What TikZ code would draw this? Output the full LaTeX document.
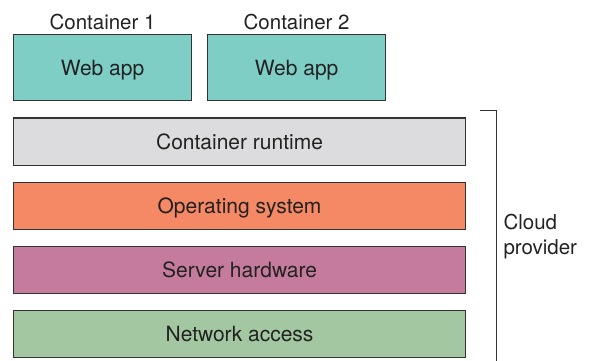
\documentclass[tikz,border=0pt]{standalone}
\usepackage{fontspec}
\setmainfont{TeX Gyre Heros}
\usetikzlibrary{positioning}

\definecolor{appteal}{HTML}{7FCEC6}
\definecolor{rtgray}{HTML}{DCDCDE}
\definecolor{osorange}{HTML}{F58865}
\definecolor{hwpink}{HTML}{C57B9C}
\definecolor{netgreen}{HTML}{A3C8A1}
\definecolor{edge}{HTML}{333333}
\definecolor{ink}{HTML}{222222}

\begin{document}
\begin{tikzpicture}[x=1pt,y=-1pt,
    box/.style={draw=edge, line width=1.1pt, inner sep=0pt, text=ink,
        text depth=0pt, font=\fontsize{21}{24}\selectfont},
    layer/.style={box, minimum width=452pt, minimum height=47pt},
    app/.style={box, fill=appteal, minimum width=178pt, minimum height=66pt},
    lbl/.style={text=ink, font=\fontsize{20.5}{25}\selectfont}]
    \def\gap{16pt}
    \def\xl{13}
    \def\yt{117.5}

    \useasboundingbox (0,0) rectangle (595,361);

% --------------------
% Layers
% --------------------
\node[layer, fill=rtgray, anchor=north west] (runtime) at (\xl,\yt) {Container runtime};
\node[layer, fill=osorange, below=\gap of runtime] (os) {Operating system};
\node[layer, fill=hwpink, below=\gap of os] (hw) {Server hardware};
\node[layer, fill=netgreen, below=\gap of hw] (net) {Network access};

% --------------------
% Containers
% --------------------
\node[app, above=\gap of runtime.north west, anchor=south west] (app1) {Web app};
\node[app, right=15pt of app1] (app2) {Web app};

\node[lbl, above=1pt of app1] (c1) {Container 1};
\node[lbl, above=1pt of app2] (c2) {Container 2};

% --------------------
% Bracket
% --------------------
\coordinate (tick) at (480,111);
\coordinate (brtop) at (496,111);
\coordinate (brbot) at (496,361);
\draw[edge, line width=1pt] (tick) -- (brtop) -- (brbot);

\node[lbl, align=left, anchor=west] (cloud) at (500,237) {Cloud\\provider};

\end{tikzpicture}
\end{document}
